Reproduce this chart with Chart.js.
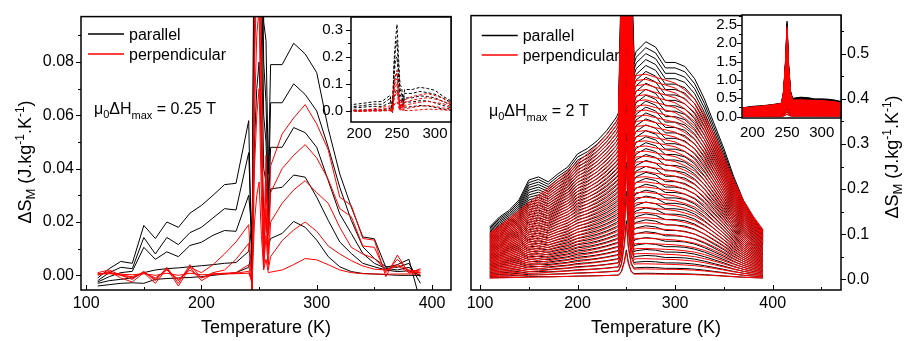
<!DOCTYPE html>
<html>
<head>
<meta charset="utf-8">
<script src="https://cdn.jsdelivr.net/npm/chart.js@4.4.1/dist/chart.umd.min.js"></script>
<style>
  html, body { margin: 0; padding: 0; background: #fff; }
  #figure { position: relative; width: 904px; height: 341px; overflow: hidden; }
  #figure canvas { position: absolute; top: 0; }
</style>
</head>
<body>
<div id="figure">
  <canvas id="leftMain" width="460" height="341" style="left:0px"></canvas>
  <canvas id="rightMain" width="444" height="341" style="left:460px"></canvas>
  <canvas id="leftInset" width="155" height="145" style="left:300px"></canvas>
  <canvas id="rightInset" width="155" height="145" style="left:690px"></canvas>
</div>
<script>
const FONT = '"Liberation Sans", Arial, sans-serif';

// ---- 0.25 T field change: temperatures (K) and entropy change (J/kg/K) ----
const lowFieldTemps = [110, 120, 130, 140, 150, 160, 170, 180, 190, 200, 210, 220, 230, 241,
    244, 246, 248, 250, 252, 254, 256, 258, 260, 270, 280, 290, 300, 310, 320, 330, 340, 350,
    360, 370, 380, 390];

const parallel1 = [-0.0010, 0.0025, 0.0052, 0.0045, 0.0187, 0.0138, 0.0200, 0.0180, 0.0233, 0.0262,
    0.0300, 0.0340, 0.0345, 0.0580, -0.0060, 0.1800, 0.2600, 0.3200, 0.2000, 0.0950, 0.0880, 0.0380,
    0.0790, 0.0790, 0.0870, 0.0830, 0.0760, 0.0550, 0.0380, 0.0256, 0.0144, 0.0137, 0.0030, 0.0040,
    0.0060, -0.0100];
const parallel2 = [-0.0020, 0.0010, 0.0030, 0.0025, 0.0142, 0.0080, 0.0142, 0.0115, 0.0160, 0.0180,
    0.0215, 0.0250, 0.0245, 0.0460, 0.0080, 0.1500, 0.2300, 0.2600, 0.1500, 0.0800, 0.0650, 0.0280,
    0.0647, 0.0647, 0.0718, 0.0678, 0.0616, 0.0480, 0.0330, 0.0206, 0.0107, 0.0063, 0.0032, 0.0030,
    0.0045, -0.0030];
const parallel3 = [-0.0025, -0.0005, 0.0010, 0.0015, 0.0105, 0.0060, 0.0088, 0.0070, 0.0112, 0.0124,
    0.0150, 0.0168, 0.0165, 0.0300, 0.0150, 0.1200, 0.1900, 0.2000, 0.1200, 0.0600, 0.0500, 0.0220,
    0.0480, 0.0480, 0.0554, 0.0535, 0.0480, 0.0355, 0.0230, 0.0157, 0.0082, 0.0045, 0.0026, 0.0020,
    0.0030, -0.0005];
const parallel4 = [-0.0030, -0.0020, -0.0015, -0.0010, 0.0010, 0.0020, 0.0025, 0.0028, 0.0032, 0.0036,
    0.0040, 0.0045, 0.0048, 0.0090, 0.0200, 0.0900, 0.1300, 0.1400, 0.0900, 0.0400, 0.0350, 0.0180,
    0.0324, 0.0330, 0.0376, 0.0368, 0.0293, 0.0206, 0.0125, 0.0082, 0.0045, 0.0032, 0.0020, 0.0014,
    0.0017, 0.0000];
const parallel5 = [-0.0040, -0.0035, -0.0030, -0.0028, -0.0030, -0.0015, -0.0012, -0.0010, -0.0008, -0.0005,
    0.0000, 0.0005, 0.0010, 0.0030, 0.0100, 0.0500, 0.0700, 0.0800, 0.0500, 0.0250, 0.0200, 0.0110,
    0.0138, 0.0157, 0.0202, 0.0180, 0.0132, 0.0070, 0.0032, 0.0014, 0.0007, 0.0005, 0.0003, 0.0000,
    0.0000, 0.0000];

const perpendicular1 = [0.0000, 0.0015, -0.0010, -0.0025, 0.0010, -0.0030, 0.0025, -0.0040, 0.0030, 0.0010,
    0.0040, 0.0080, 0.0125, 0.0190, -0.0060, 0.1000, 0.1300, 0.1500, 0.0800, 0.0100, 0.0450, 0.0150,
    0.0410, 0.0530, 0.0590, 0.0640, 0.0567, 0.0470, 0.0293, 0.0262, 0.0138, 0.0132, -0.0005, 0.0076,
    0.0007, 0.0025];
const perpendicular2 = [0.0010, 0.0020, 0.0000, -0.0015, 0.0015, -0.0020, 0.0030, -0.0030, 0.0040, -0.0010,
    0.0010, 0.0020, 0.0060, 0.0120, -0.0050, 0.0800, 0.1100, 0.1200, 0.0600, 0.0050, 0.0350, 0.0080,
    0.0310, 0.0400, 0.0450, 0.0490, 0.0440, 0.0360, 0.0250, 0.0220, 0.0110, 0.0105, 0.0010, 0.0060,
    0.0015, 0.0020];
const perpendicular3 = [0.0005, 0.0010, 0.0005, -0.0010, 0.0012, -0.0015, 0.0025, -0.0020, 0.0030, -0.0020,
    0.0005, 0.0008, 0.0010, 0.0040, -0.0040, 0.0600, 0.0900, 0.1000, 0.0450, 0.0040, 0.0250, 0.0040,
    0.0200, 0.0270, 0.0320, 0.0355, 0.0310, 0.0270, 0.0180, 0.0105, 0.0080, 0.0063, 0.0020, 0.0040,
    0.0020, 0.0012];
const perpendicular4 = [0.0005, 0.0008, 0.0000, -0.0005, 0.0010, -0.0010, 0.0020, -0.0015, 0.0020, -0.0010,
    0.0005, 0.0006, 0.0008, 0.0015, -0.0030, 0.0400, 0.0600, 0.0700, 0.0300, 0.0030, 0.0150, 0.0020,
    0.0070, 0.0130, 0.0170, 0.0200, 0.0165, 0.0110, 0.0080, 0.0055, 0.0035, 0.0023, 0.0020, 0.0035,
    0.0012, 0.0010];
const perpendicular5 = [0.0005, 0.0006, 0.0004, 0.0002, 0.0006, 0.0000, 0.0008, 0.0000, 0.0008, 0.0002,
    0.0004, 0.0005, 0.0006, 0.0008, -0.0020, 0.0200, 0.0300, 0.0350, 0.0150, 0.0020, 0.0060, 0.0010,
    0.0012, 0.0020, 0.0040, 0.0063, 0.0058, 0.0040, 0.0020, 0.0010, 0.0006, 0.0005, 0.0004, 0.0005,
    0.0005, 0.0005];

// ---- 2 T field change: curves at the full field, and the field steps of the family ----
const highFieldTemps = [110, 120, 130, 140, 150, 160, 170, 180, 190, 200, 210, 220, 230, 240, 242,
    245, 248, 250, 252, 255, 258, 260, 270, 280, 290, 300, 310, 320, 330, 340, 350, 360, 370, 380, 390];
const parallel2T = [0.116, 0.138, 0.153, 0.176, 0.220, 0.227, 0.216, 0.234, 0.249, 0.278, 0.290, 0.307,
    0.330, 0.360, 0.370, 0.700, 1.600, 2.600, 1.500, 0.700, 0.490, 0.505, 0.527, 0.515, 0.481, 0.481,
    0.472, 0.445, 0.400, 0.345, 0.290, 0.228, 0.175, 0.138, 0.108];
const perpendicular2T = [0.102, 0.118, 0.135, 0.152, 0.170, 0.186, 0.203, 0.222, 0.240, 0.260, 0.278, 0.298,
    0.322, 0.350, 0.360, 0.650, 1.500, 2.450, 1.400, 0.650, 0.440, 0.452, 0.455, 0.448, 0.442, 0.435,
    0.420, 0.400, 0.365, 0.320, 0.270, 0.220, 0.175, 0.140, 0.110];
const fieldSteps = [0.05, 0.10, 0.15, 0.20, 0.25, 0.30, 0.35, 0.40, 0.45, 0.50, 0.55, 0.60, 0.65, 0.70,
    0.75, 0.80, 0.85, 0.90, 0.95, 1.00, 1.05, 1.10, 1.15, 1.20, 1.25, 1.30, 1.35, 1.40, 1.45, 1.50,
    1.55, 1.60, 1.65, 1.70, 1.75, 1.80, 1.85, 1.90, 1.95, 2.00];

// ---- tick values ----
const tempTicks = [100, 200, 300, 400];
const tempMinorTicks = [150, 250, 350, 450];
const lowFieldTicks = [0, 0.02, 0.04, 0.06, 0.08];
const lowFieldMinorTicks = [0.01, 0.03, 0.05, 0.07, 0.09];
const highFieldTicks = [0, 0.1, 0.2, 0.3, 0.4, 0.5];
const highFieldMinorTicks = [0.05, 0.15, 0.25, 0.35, 0.45, 0.55];
const insetTempTicks = [200, 250, 300];
const lowInsetTicks = [0, 0.1, 0.2, 0.3];
const lowInsetMinorTicks = [0.05, 0.15, 0.25];
const highInsetTicks = [0, 0.5, 1.0, 1.5, 2.0, 2.5];
const highInsetMinorTicks = [0.25, 0.75, 1.25, 1.75, 2.25, 2.75];

const legendNames = ['parallel', 'perpendicular'];
const seriesColors = ['#000000', '#ff0000'];

/**
 * Pairs a temperature list with a value list as {x, y} points.
 */
function toPoints(temps, values) {
    return temps.map(function (t, i) {
        return { x: t, y: values[i] };
    });
}

/**
 * One thin line dataset without point markers.
 */
function lineSet(temps, values, color, dash) {
    return {
        data: toPoints(temps, values),
        borderColor: color,
        borderWidth: 1,
        borderDash: dash || [],
        pointRadius: 0,
        fill: false,
        tension: 0
    };
}

// Datasets drawn first in the list end up on top, so the red curves come first.
function lowFieldSets(dash) {
    const reds = [perpendicular1, perpendicular2, perpendicular3, perpendicular4, perpendicular5];
    const blacks = [parallel1, parallel2, parallel3, parallel4, parallel5];
    return reds.map(v => lineSet(lowFieldTemps, v, seriesColors[1], dash))
        .concat(blacks.map(v => lineSet(lowFieldTemps, v, seriesColors[0], dash)));
}

// Family of curves for every field step, each scaled from the full-field curve.
function highFieldSets() {
    const full = fieldSteps[fieldSteps.length - 1];
    const family = function (curve, color) {
        return fieldSteps.map(function (h) {
            return lineSet(highFieldTemps, curve.map(v => v * h / full), color);
        });
    };
    return family(perpendicular2T, seriesColors[1]).concat(family(parallel2T, seriesColors[0]));
}

/**
 * Draws text pieces along one baseline; a piece is [text, size, shift].
 * Returns the total width.
 */
function richText(ctx, pieces, x, y, measureOnly) {
    let cx = x;
    pieces.forEach(function (p) {
        ctx.font = p[1] + 'px ' + FONT;
        if (!measureOnly) ctx.fillText(p[0], cx, y + (p[2] || 0));
        cx += ctx.measureText(p[0]).width;
    });
    return cx - x;
}

const yTitlePieces = [['\u0394S', 18], ['M', 13, 4], [' (J.kg', 18], ['-1', 12, -7], ['.K', 18], ['-1', 12, -7], [')', 18]];

// Frame and tick marks, drawn from the chart's own scales.
const axisFrame = {
    id: 'axisFrame',
    beforeDatasetsDraw(chart, args, opts) {
        if (!opts.fill) return;
        const a = chart.chartArea;
        chart.ctx.save();
        chart.ctx.fillStyle = opts.fill;
        chart.ctx.fillRect(a.left, a.top, a.right - a.left, a.bottom - a.top);
        chart.ctx.restore();
    },
    afterDatasetsDraw(chart, args, opts) {
        const ctx = chart.ctx;
        const a = chart.chartArea;
        const xs = chart.scales.x;
        const ys = chart.scales.y;
        ctx.save();
        ctx.strokeStyle = '#000';
        ctx.lineWidth = 1;
        ctx.beginPath();
        const xMarks = function (list, len) {
            list.forEach(function (v) {
                if (v < xs.min || v > xs.max) return;
                const px = Math.round(xs.getPixelForValue(v)) + 0.5;
                ctx.moveTo(px, a.bottom);
                ctx.lineTo(px, opts.xDir === 'in' ? a.bottom - len : a.bottom + len);
            });
        };
        const yMarks = function (list, len) {
            list.forEach(function (v) {
                if (v < ys.min || v > ys.max) return;
                const py = Math.round(ys.getPixelForValue(v)) + 0.5;
                const edge = opts.ySide === 'right' ? a.right : a.left;
                const dir = (opts.ySide === 'right') === (opts.yDir === 'out') ? 1 : -1;
                ctx.moveTo(edge, py);
                ctx.lineTo(edge + dir * len, py);
            });
        };
        xMarks(opts.xMajor || [], 5);
        xMarks(opts.xMinor || [], 3);
        yMarks(opts.yMajor || [], 5);
        yMarks(opts.yMinor || [], 3);
        ctx.stroke();
        ctx.lineWidth = 1.5;
        ctx.strokeRect(a.left, a.top, a.right - a.left, a.bottom - a.top);
        ctx.restore();
    }
};

// Legend, field note and rotated y title.
const panelText = {
    id: 'panelText',
    beforeDatasetsDraw(chart, args, opts) {
        if (!opts.legend) return;
        const ctx = chart.ctx;
        ctx.save();
        ctx.textBaseline = 'alphabetic';
        ctx.textAlign = 'left';
        const lg = opts.legend;
        legendNames.forEach(function (name, i) {
            ctx.strokeStyle = seriesColors[i];
            ctx.lineWidth = 1.5;
            ctx.beginPath();
            ctx.moveTo(lg.x0, lg.y[i]);
            ctx.lineTo(lg.x1, lg.y[i]);
            ctx.stroke();
            ctx.fillStyle = '#000';
            ctx.font = '16px ' + FONT;
            ctx.fillText(name, lg.textX, lg.y[i] + lg.textDy);
        });
        ctx.fillStyle = '#000';
        richText(ctx, opts.note.pieces, opts.note.x, opts.note.y);
        ctx.translate(opts.title.x, opts.title.y);
        ctx.rotate(-Math.PI / 2);
        const w = richText(ctx, yTitlePieces, 0, 0, true);
        richText(ctx, yTitlePieces, -w / 2, 0);
        ctx.restore();
    }
};

/**
 * Builds one chart with fixed axis box sizes so the plot area lands where wanted.
 */
function makeChart(canvasId, datasets, c) {
    const tickFont = { family: FONT, size: c.tickSize };
    return new Chart(document.getElementById(canvasId), {
        type: 'line',
        data: { datasets: datasets },
        options: {
            responsive: false,
            animation: false,
            devicePixelRatio: 1,
            events: [],
            layout: { padding: c.padding },
            scales: {
                x: {
                    type: 'linear', min: c.xMin, max: c.xMax,
                    grid: { display: false, drawTicks: false },
                    border: { display: false },
                    afterBuildTicks: s => { s.ticks = c.xTicks.map(v => ({ value: v })); },
                    afterFit: s => { s.height = c.xHeight; },
                    ticks: { font: tickFont, color: '#000', padding: c.xPad, maxRotation: 0, autoSkip: false,
                        callback: v => String(v) },
                    title: c.xTitle ? { display: true, text: c.xTitle, color: '#000',
                        font: { family: FONT, size: 18 }, padding: { top: 0, bottom: 2 } } : { display: false }
                },
                y: {
                    type: 'linear', position: c.yPos, min: c.yMin, max: c.yMax,
                    grid: { display: false, drawTicks: false },
                    border: { display: false },
                    afterBuildTicks: s => { s.ticks = c.yTicks.map(v => ({ value: v })); },
                    afterFit: s => { s.width = c.yWidth; },
                    ticks: { font: tickFont, color: '#000', padding: c.yPad, autoSkip: false,
                        callback: v => v.toFixed(c.yDigits) }
                }
            },
            plugins: {
                legend: { display: false },
                tooltip: { enabled: false },
                axisFrame: c.frame,
                panelText: c.text || {}
            }
        },
        plugins: [axisFrame, panelText]
    });
}

makeChart('leftMain', lowFieldSets(), {
    xMin: 95.5, xMax: 416.5, yMin: -0.0055, yMax: 0.097,
    xTicks: tempTicks, yTicks: lowFieldTicks, yDigits: 2, yPos: 'left',
    tickSize: 16, xPad: 4, yPad: 7, xHeight: 51, yWidth: 81,
    padding: { left: 0, right: 9, top: 15, bottom: 0 },
    xTitle: 'Temperature (K)',
    frame: { xMajor: tempTicks, xMinor: tempMinorTicks, xDir: 'in',
        yMajor: lowFieldTicks, yMinor: lowFieldMinorTicks, yDir: 'out', ySide: 'left' },
    text: {
        legend: { x0: 88, x1: 124, y: [34, 54], textX: 129, textDy: 5.5 },
        note: { x: 94, y: 114, pieces: [['\u03bc', 16], ['0', 11, 4], ['\u0394H', 16], ['max', 11, 5], [' = 0.25 T', 16]] },
        title: { x: 31, y: 162 }
    }
});

makeChart('rightMain', highFieldSets(), {
    xMin: 90.8, xMax: 470, yMin: -0.024, yMax: 0.585,
    xTicks: tempTicks, yTicks: highFieldTicks, yDigits: 1, yPos: 'right',
    tickSize: 16, xPad: 4, yPad: 6, xHeight: 51, yWidth: 63,
    padding: { left: 11, right: 0, top: 15, bottom: 0 },
    xTitle: 'Temperature (K)',
    frame: { xMajor: tempTicks, xMinor: tempMinorTicks, xDir: 'in',
        yMajor: highFieldTicks, yMinor: highFieldMinorTicks, yDir: 'out', ySide: 'right' },
    text: {
        legend: { x0: 21.7, x1: 57.7, y: [35.5, 55], textX: 62.7, textDy: 5.5 },
        note: { x: 29, y: 116, pieces: [['\u03bc', 16], ['0', 11, 4], ['\u0394H', 16], ['max', 11, 5], [' = 2 T', 16]] },
        title: { x: 438, y: 157 }
    }
});

makeChart('leftInset', lowFieldSets([3, 2]), {
    xMin: 189.5, xMax: 321, yMin: -0.041, yMax: 0.347,
    xTicks: insetTempTicks, yTicks: lowInsetTicks, yDigits: 1, yPos: 'left',
    tickSize: 15, xPad: 3, yPad: 8, xHeight: 23, yWidth: 51,
    padding: { left: 0, right: 4, top: 15, bottom: 0 },
    frame: { fill: '#fff', xMajor: [], xMinor: [], xDir: 'in',
        yMajor: lowInsetTicks, yMinor: lowInsetMinorTicks, yDir: 'out', ySide: 'left' }
});

makeChart('rightInset', highFieldSets(), {
    xMin: 185, xMax: 327.8, yMin: -0.04, yMax: 2.77,
    xTicks: insetTempTicks, yTicks: highInsetTicks, yDigits: 1, yPos: 'left',
    tickSize: 15, xPad: 6, yPad: 5, xHeight: 27, yWidth: 52,
    padding: { left: 0, right: 4, top: 15, bottom: 0 },
    frame: { fill: '#fff', xMajor: [], xMinor: [], xDir: 'in',
        yMajor: highInsetTicks, yMinor: highInsetMinorTicks, yDir: 'out', ySide: 'left' }
});
</script>
</body>
</html>
